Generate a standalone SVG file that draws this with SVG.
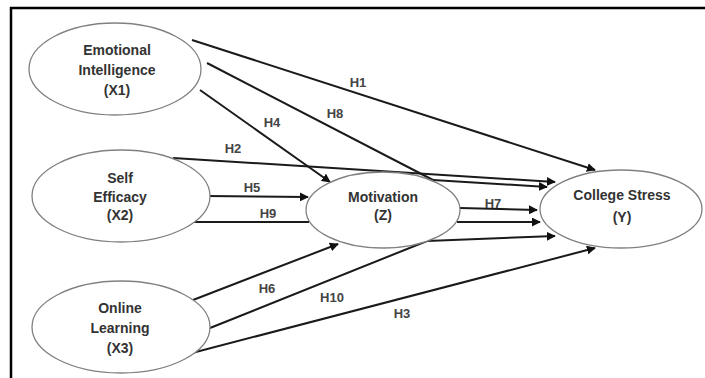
<svg xmlns="http://www.w3.org/2000/svg" width="705" height="378" viewBox="0 0 705 378">
<defs>
<marker id="ah" viewBox="0 0 10 10" refX="9" refY="5" markerWidth="4.5" markerHeight="4.5" orient="auto" markerUnits="strokeWidth">
<path d="M0,0 L10,5 L0,10 z" fill="#111"/>
</marker>
<style>
.node ellipse{fill:#fff;stroke:#808080;stroke-width:1.3}
.node text{font-family:"Liberation Sans",Arial,sans-serif;font-size:14px;font-weight:bold;fill:#333;text-anchor:middle}
.lbl{font-family:"Liberation Sans",Arial,sans-serif;font-size:13px;font-weight:bold;fill:#444;text-anchor:middle}
.c{stroke:#1a1a1a;stroke-width:2;fill:none}
.a{marker-end:url(#ah)}
.frame{stroke:#000;stroke-width:2.5}
</style>
</defs>
<rect width="705" height="378" fill="#fff"/>
<line class="frame" x1="10" y1="8" x2="705" y2="8"/>
<line class="frame" x1="11" y1="7" x2="11" y2="378"/>
<g id="connectors">
<line class="c a" x1="192" y1="40" x2="595" y2="170"/>
<polyline class="c" points="207,63 433,180"/>
<line class="c a" x1="433" y1="180" x2="547" y2="187"/>
<line class="c a" x1="200" y1="90" x2="330" y2="182"/>
<line class="c a" x1="173" y1="158" x2="555" y2="182"/>
<line class="c a" x1="207" y1="196" x2="308" y2="197"/>
<line class="c" x1="193" y1="222" x2="309" y2="222"/>
<line class="c a" x1="457" y1="222" x2="540" y2="222"/>
<line class="c a" x1="460" y1="208" x2="537" y2="210"/>
<line class="c a" x1="193" y1="300" x2="338" y2="244"/>
<line class="c" x1="210" y1="328" x2="427" y2="241"/>
<line class="c a" x1="427" y1="241" x2="555" y2="236"/>
<line class="c a" x1="192" y1="353" x2="595" y2="248"/>
</g>
<g id="X1" class="node">
<ellipse cx="115" cy="69" rx="86" ry="46"/>
<text x="117" y="55">Emotional</text>
<text x="117" y="75">Intelligence</text>
<text x="117" y="95">(X1)</text>
</g>
<g id="X2" class="node">
<ellipse cx="121" cy="196" rx="89" ry="46"/>
<text x="120" y="183">Self</text>
<text x="120" y="202">Efficacy</text>
<text x="120" y="220">(X2)</text>
</g>
<g id="X3" class="node">
<ellipse cx="121" cy="327" rx="89" ry="46"/>
<text x="120" y="313">Online</text>
<text x="120" y="333">Learning</text>
<text x="120" y="353">(X3)</text>
</g>
<g id="Z" class="node">
<ellipse cx="383" cy="210" rx="77" ry="38"/>
<text x="383" y="202">Motivation</text>
<text x="383" y="220">(Z)</text>
</g>
<g id="Y" class="node">
<ellipse cx="621" cy="209" rx="81" ry="39"/>
<text x="622" y="200">College Stress</text>
<text x="622" y="222">(Y)</text>
</g>
<g id="labels">
<text class="lbl" x="358" y="87">H1</text>
<text class="lbl" x="335" y="118">H8</text>
<text class="lbl" x="272" y="127">H4</text>
<text class="lbl" x="233" y="153">H2</text>
<text class="lbl" x="252" y="192">H5</text>
<text class="lbl" x="268" y="218">H9</text>
<text class="lbl" x="493" y="208">H7</text>
<text class="lbl" x="267" y="293">H6</text>
<text class="lbl" x="332" y="302">H10</text>
<text class="lbl" x="402" y="318">H3</text>
</g>
</svg>
